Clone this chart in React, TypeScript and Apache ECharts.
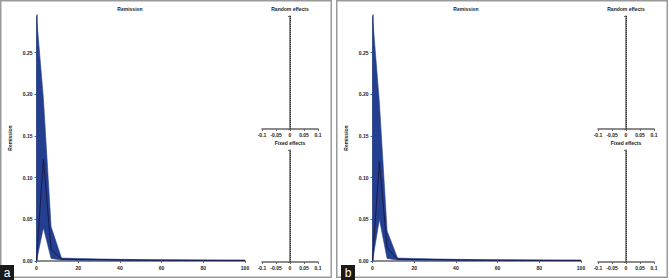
import React, { useEffect, useRef } from "react";
import * as echarts from "echarts";

// Time points (x axis of the Remission panels)
const times = [0, 3.3, 7, 12, 20, 30, 40, 50, 60, 70, 80, 90, 100];

// Panel a
const upperA = [0.293, 0.195, 0.041, 0.0035, 0.003, 0.0025, 0.002, 0.0017, 0.0015, 0.0014, 0.0013, 0.0012, 0.0011];
const meanA = [0.001, 0.122, 0.014, 0.0022, 0.0018, 0.0015, 0.0012, 0.001, 0.0009, 0.0008, 0.0008, 0.0007, 0.0007];
const lowerA = [0, 0.04, 0.003, 0.0012, 0.001, 0.0008, 0.0006, 0.0005, 0.0004, 0.0004, 0.0003, 0.0003, 0.0003];

// Panel b
const upperB = [0.293, 0.19, 0.036, 0.0035, 0.003, 0.0025, 0.002, 0.0017, 0.0015, 0.0014, 0.0013, 0.0012, 0.0011];
const meanB = [0.001, 0.119, 0.016, 0.0022, 0.0018, 0.0015, 0.0012, 0.001, 0.0009, 0.0008, 0.0008, 0.0007, 0.0007];
const lowerB = [0, 0.05, 0.003, 0.0012, 0.001, 0.0008, 0.0006, 0.0005, 0.0004, 0.0004, 0.0003, 0.0003, 0.0003];

const panelLabels = ["a", "b"];
const mainTitle = "Remission";
const randomTitle = "Random effects";
const fixedTitle = "Fixed effects";

const FONT = "Liberation Sans";
const BAND = "#243f8f";
const MEAN = "#1a1c4a";
const AXIS = "#666";

function buildPanel(idx: number, dx: number, upper: number[], mean: number[], lower: number[]) {
  const g0 = idx * 3;
  const grids = [
    { left: 36.5 + dx, top: 15, width: 208.5, height: 246 },
    { left: 262 + dx, top: 16, width: 56, height: 113 },
    { left: 262 + dx, top: 150, width: 56, height: 112 },
  ];
  const smallX = (gi: number) => ({
    type: "value",
    gridIndex: gi,
    min: -0.1,
    max: 0.1,
    interval: 0.05,
    axisLine: { show: true, lineStyle: { color: AXIS, width: 1.5 } },
    axisTick: { show: true, length: 2, lineStyle: { color: AXIS } },
    axisLabel: { fontSize: 5, fontWeight: "bold", color: "#222", fontFamily: FONT, margin: 3 },
    splitLine: { show: false },
  });
  const smallY = (gi: number) => ({
    type: "value",
    gridIndex: gi,
    min: 0,
    max: 1,
    interval: 1,
    axisLine: { show: true, lineStyle: { color: AXIS, width: 1.5 } },
    axisTick: { show: true, length: 2, lineStyle: { color: AXIS } },
    axisLabel: { show: false },
    splitLine: { show: false },
  });
  const xAxes = [
    {
      type: "value",
      gridIndex: g0,
      min: 0,
      max: 100,
      interval: 20,
      axisLine: { show: true, lineStyle: { color: AXIS, width: 1.5 } },
      axisTick: { show: true, length: 2, lineStyle: { color: AXIS } },
      axisLabel: { fontSize: 5, fontWeight: "bold", color: "#222", fontFamily: FONT, margin: 4 },
      splitLine: { show: false },
    },
    smallX(g0 + 1),
    smallX(g0 + 2),
  ];
  const yAxes = [
    {
      type: "value",
      gridIndex: g0,
      min: 0,
      max: 0.295,
      interval: 0.05,
      name: mainTitle,
      nameLocation: "middle",
      nameGap: 24,
      nameTextStyle: { fontSize: 5, fontWeight: "bold", color: "#222", fontFamily: FONT },
      axisLine: { show: true, lineStyle: { color: AXIS, width: 1.5 } },
      axisTick: { show: true, length: 2, lineStyle: { color: AXIS } },
      axisLabel: {
        fontSize: 5,
        fontWeight: "bold",
        color: "#222",
        fontFamily: FONT,
        margin: 4,
        showMaxLabel: false,
        formatter: (v: number) => (v > 0.26 ? "" : v.toFixed(2)),
      },
      splitLine: { show: false },
    },
    smallY(g0 + 1),
    smallY(g0 + 2),
  ];
  const bandData = times.map((t, k) => [t, lower[k], upper[k]]);
  const series: any[] = [
    {
      type: "custom",
      xAxisIndex: g0,
      yAxisIndex: g0,
      silent: true,
      clip: true,
      data: bandData,
      renderItem: (params: any, api: any) => {
        if (params.dataIndex !== 0) return null;
        const top = bandData.map((d) => api.coord([d[0], d[2]]));
        const bottom = bandData.map((d) => api.coord([d[0], d[1]])).reverse();
        return {
          type: "polygon",
          shape: { points: [...top, ...bottom] },
          style: { fill: BAND, stroke: BAND, lineWidth: 0.6 },
        };
      },
    },
    {
      type: "line",
      xAxisIndex: g0,
      yAxisIndex: g0,
      symbol: "none",
      silent: true,
      z: 5,
      lineStyle: { color: MEAN, width: 1 },
      data: times.map((t, k) => [t, mean[k]]),
    },
  ];
  for (const gi of [g0 + 1, g0 + 2]) {
    series.push({
      type: "line",
      xAxisIndex: gi,
      yAxisIndex: gi,
      data: [],
      markLine: {
        silent: true,
        symbol: ["none", "none"],
        label: { show: false },
        lineStyle: { type: "dotted", color: "#333", width: 1 },
        data: [{ xAxis: 0 }],
      },
    });
  }
  const textStyle = (x: number, y: number, text: string) => ({
    type: "text",
    x,
    y,
    style: {
      text,
      fontSize: 5,
      fontWeight: "bold",
      fontFamily: FONT,
      fill: "#222",
      align: "center",
      verticalAlign: "middle",
    },
  });
  const graphics: any[] = [
    {
      type: "rect",
      shape: { x: 0.75 + dx, y: 0.75, width: 330.5, height: 276.5 },
      style: { fill: "none", stroke: "#9a9a9a", lineWidth: 1.5 },
    },
    textStyle(130 + dx, 9, mainTitle),
    textStyle(290 + dx, 9, randomTitle),
    textStyle(290 + dx, 143, fixedTitle),
    {
      type: "rect",
      shape: { x: dx + (idx === 0 ? 0 : 5), y: 265, width: 14, height: 15 },
      style: { fill: "#1a1a1a" },
    },
    {
      type: "text",
      x: dx + (idx === 0 ? 7 : 12),
      y: 272.5,
      style: {
        text: panelLabels[idx],
        fontSize: 12,
        fontFamily: FONT,
        fill: "#fff",
        align: "center",
        verticalAlign: "middle",
      },
    },
  ];
  return { grids, xAxes, yAxes, series, graphics };
}

export default function App() {
  const ref = useRef<HTMLDivElement>(null);
  useEffect(() => {
    if (!ref.current) return;
    const chart = echarts.init(ref.current, undefined, { renderer: "svg" });
    const a = buildPanel(0, 0, upperA, meanA, lowerA);
    const b = buildPanel(1, 336, upperB, meanB, lowerB);
    chart.setOption({
      animation: false,
      backgroundColor: "#fff",
      grid: [...a.grids, ...b.grids],
      xAxis: [...a.xAxes, ...b.xAxes],
      yAxis: [...a.yAxes, ...b.yAxes],
      series: [...a.series, ...b.series],
      graphic: [...a.graphics, ...b.graphics],
    });
    return () => chart.dispose();
  }, []);
  return (
    <div
      ref={ref}
      style={{ position: "absolute", left: 0, top: 0, width: 669, height: 280, background: "#fff" }}
    />
  );
}
